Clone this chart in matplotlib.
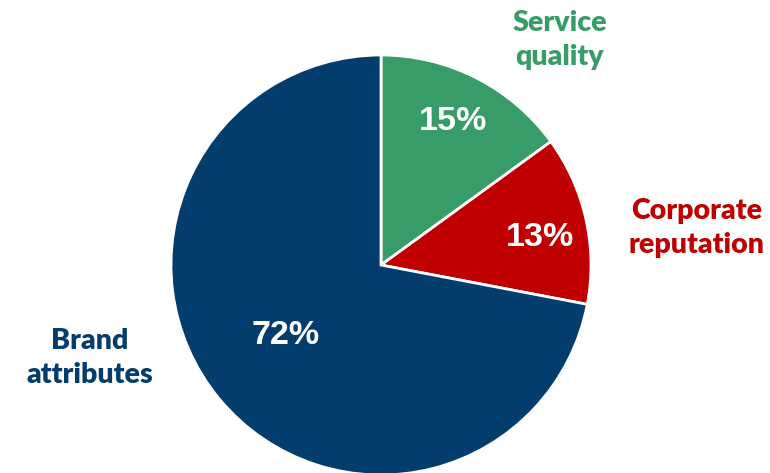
import matplotlib.pyplot as plt

# --- Data ---
categories = ["Service\nquality", "Corporate\nreputation", "Brand\nattributes"]
shares = [15, 13, 72]
colors = ["#389C69", "#C00000", "#033D6E"]

# label positions in pixels (x, y from top)
pct_pos = [(453, 122), (540, 238), (286, 336)]
name_pos = [(560, 40), (697, 228), (90, 358)]

W, H = 770, 473
fig = plt.figure(figsize=(W / 100, H / 100), dpi=100)
ax = fig.add_axes([0, 0, 1, 1])

ax.pie(shares, colors=colors, startangle=90, counterclock=False,
       center=(381, H - 265), radius=210,
       wedgeprops=dict(edgecolor="white", linewidth=2), frame=True)
ax.set_xlim(0, W)
ax.set_ylim(0, H)
ax.set_aspect("equal")
ax.axis("off")

for s, (x, y) in zip(shares, pct_pos):
    ax.text(x, H - y, f"{s}%", color="white", fontsize=24.5, fontweight="bold",
            family="Liberation Sans", ha="center", va="center")

for name, c, (x, y) in zip(categories, colors, name_pos):
    ax.text(x, H - y, name, color=c, fontsize=20.5, fontweight="heavy",
            family="Lato", ha="center", va="center", linespacing=1.4)

fig.savefig("out.png", dpi=100)
